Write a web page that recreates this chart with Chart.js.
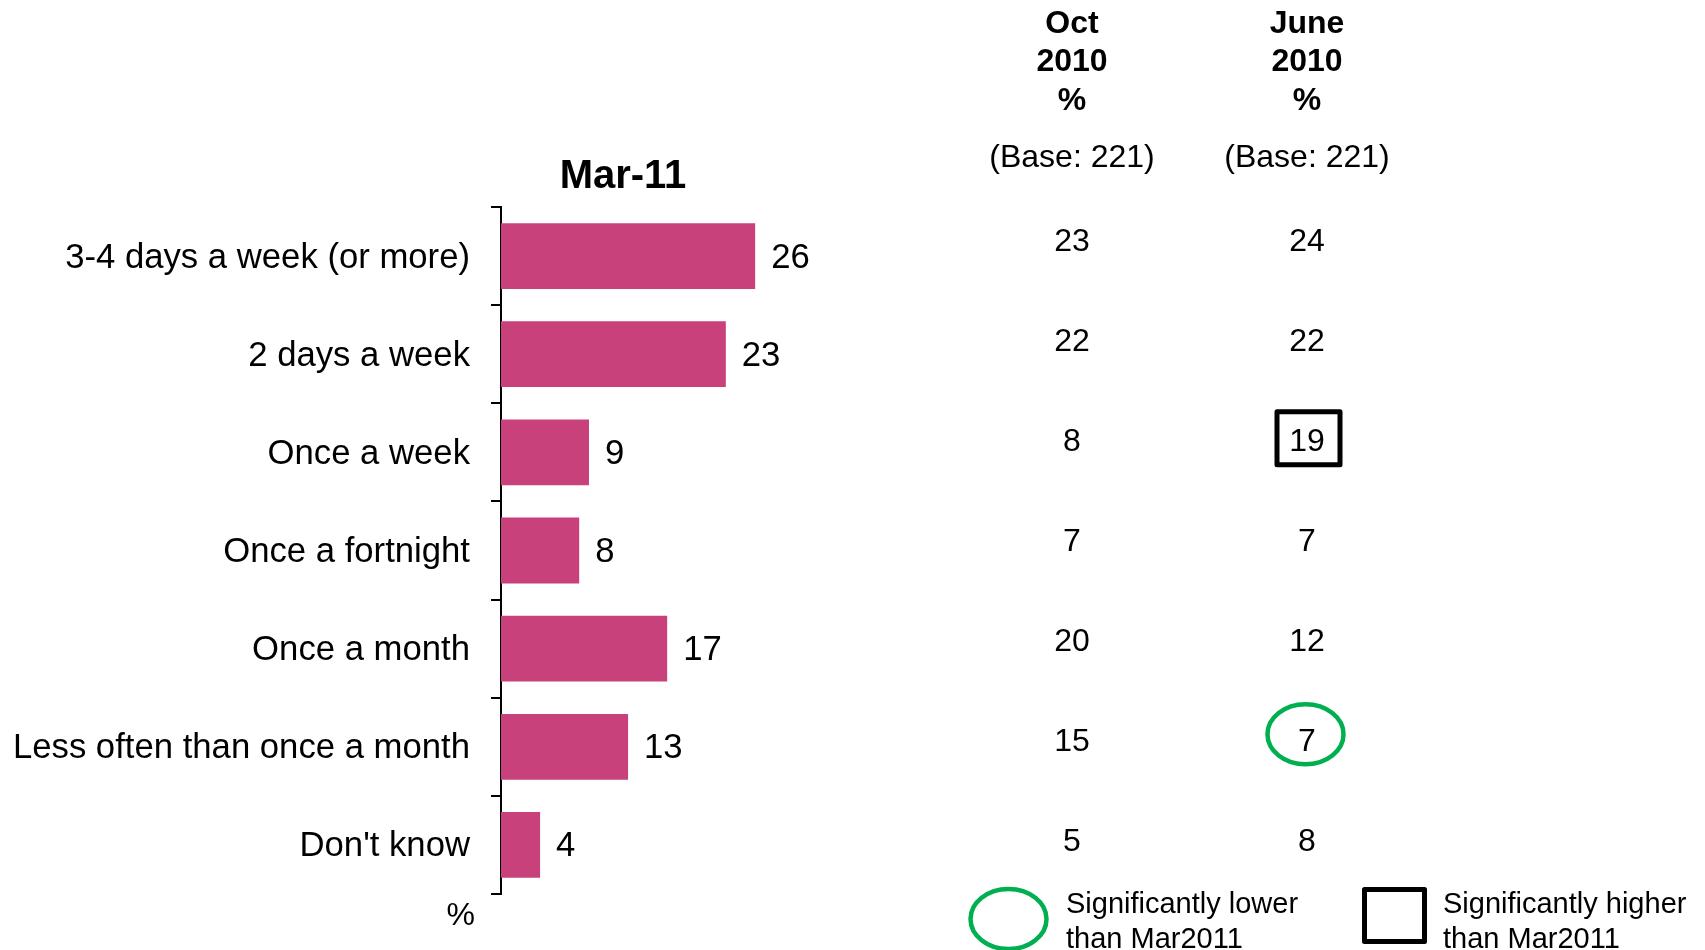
<!doctype html>
<html>
<head>
<title>Mar-11 frequency</title>
<script src="https://cdn.jsdelivr.net/npm/chart.js@4.4.0/dist/chart.umd.min.js"></script>
<style>
body{margin:0;background:#fff;}
#wrap{position:relative;width:1705px;height:950px;}
</style>
</head>
<body>
<div id="wrap"><canvas id="chart"></canvas></div>
<script>
// data
const labels=['3-4 days a week (or more)','2 days a week','Once a week','Once a fortnight','Once a month','Less often than once a month',"Don't know"];
const mar11=[26,23,9,8,17,13,4];
const oct2010=[23,22,8,7,20,15,5];
const june2010=[24,22,19,7,12,7,8];
const octSig=['','','','','','',''];
const juneSig=['','','higher','','','lower',''];
const colHeads=[['Oct','2010','%'],['June','2010','%']];
const bases=['(Base: 221)','(Base: 221)'];
const chartTitle='Mar-11';
const legendText=[['Significantly lower','than Mar2011'],['Significantly higher','than Mar2011']];

const FONT='"Liberation Sans", Arial, sans-serif';
const GREEN='#00B050';

function ellipse(ctx,x,y,rx,ry){
	ctx.beginPath();
	ctx.ellipse(x,y,rx,ry,0,0,Math.PI*2);
	ctx.stroke();
}

const extras={
	id:'extras',
	afterDraw(chart){
		const ctx=chart.ctx;
		const y=chart.scales.y;
		ctx.save();
		ctx.fillStyle='#000';
		ctx.textBaseline='middle';

		// bar values
		ctx.font='34.7px '+FONT;
		ctx.textAlign='left';
		chart.getDatasetMeta(0).data.forEach((bar,i)=>{
			ctx.fillText(String(mar11[i]),bar.x+16,bar.y+2);
		});

		// title
		ctx.font='bold 40px '+FONT;
		ctx.textAlign='center';
		ctx.fillText(chartTitle,623,177);

		// % under axis
		ctx.font='32px '+FONT;
		ctx.textAlign='right';
		ctx.fillText('%',475,916);

		// table rows follow the category scale, slightly above each bar
		const rowY=i=>y.getPixelForValue(i)-13.8+i*1.85;
		const cols=[{x:1072,vals:oct2010,sig:octSig},{x:1307,vals:june2010,sig:juneSig}];
		cols.forEach((c,ci)=>{
			ctx.textAlign='center';
			ctx.font='bold 32px '+FONT;
			colHeads[ci].forEach((h,k)=>ctx.fillText(h,c.x,24+k*38.5));
			ctx.font='32px '+FONT;
			ctx.fillText(bases[ci],c.x,158);
			c.vals.forEach((v,i)=>{
				const py=rowY(i);
				ctx.fillStyle='#000';
				ctx.fillText(String(v),c.x,py);
				if(c.sig[i]==='higher'){
					ctx.strokeStyle='#000';
					ctx.lineWidth=5;
					ctx.lineJoin='round';
					ctx.strokeRect(c.x-30,py-30.5,63,53);
				}else if(c.sig[i]==='lower'){
					ctx.strokeStyle=GREEN;
					ctx.lineWidth=4.5;
					ellipse(ctx,c.x-1.5,py-8,38,30);
				}
			});
		});

		// legend
		ctx.strokeStyle=GREEN;
		ctx.lineWidth=4.5;
		ellipse(ctx,1008.5,919,38,30);
		ctx.strokeStyle='#000';
		ctx.lineWidth=5;
		ctx.lineJoin='round';
		ctx.strokeRect(1364.5,889.5,60,52);
		ctx.font='29px '+FONT;
		ctx.textAlign='left';
		ctx.fillStyle='#000';
		legendText[0].forEach((s,k)=>ctx.fillText(s,1066,905+k*35));
		legendText[1].forEach((s,k)=>ctx.fillText(s,1443,905+k*35));
		ctx.restore();
	}
};

new Chart(document.getElementById('chart'),{
	type:'bar',
	data:{
		labels:labels,
		datasets:[{
			label:'Mar-11',
			data:mar11,
			backgroundColor:'#C8417A',
			barPercentage:0.67,
			categoryPercentage:1
		}]
	},
	options:{
		indexAxis:'y',
		responsive:true,
		maintainAspectRatio:false,
		animation:false,
		layout:{padding:{top:207,bottom:56,left:0,right:813}},
		plugins:{legend:{display:false},tooltip:{enabled:false},title:{display:false}},
		scales:{
			x:{type:'linear',min:0,max:40,display:false},
			y:{
				type:'category',
				afterFit(s){s.width=501;},
				grid:{display:true,drawOnChartArea:false,drawTicks:true,tickLength:10,color:'#000',lineWidth:2,offset:true},
				border:{display:true,color:'#000',width:2},
				ticks:{color:'#000',font:{family:FONT,size:34.7},padding:21,autoSkip:false,labelOffset:2}
			}
		}
	},
	plugins:[extras]
});
</script>
</body>
</html>
